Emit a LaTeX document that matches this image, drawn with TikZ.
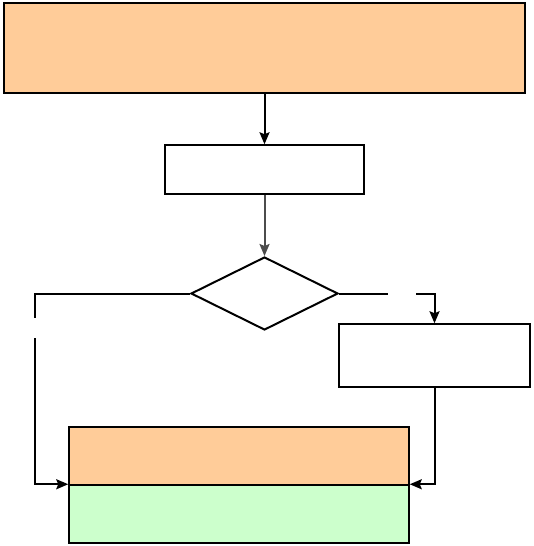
\documentclass[tikz,border=0pt]{standalone}
\usepackage{tikz}
\usetikzlibrary{shapes.geometric,arrows.meta}
\definecolor{peach}{RGB}{255,204,153}
\definecolor{mint}{RGB}{204,255,204}
\begin{document}
\begin{tikzpicture}[x=1pt,y=1pt]
\tikzset{
  boxs/.style={draw=black,line width=1.5pt,inner sep=0pt,rectangle},
  conn/.style={line width=2pt,draw=black},
  arr/.style={line width=2pt,draw=black,-{Stealth[length=12pt,width=10pt,inset=2pt]}}}
\useasboundingbox (0,-546) rectangle (533,0);
\node[boxs,fill=peach,minimum width=521pt,minimum height=90pt] (top) at (264.5,-48) {};
\node[boxs,fill=white,minimum width=199pt,minimum height=49pt] (mid) at (264.5,-169.5) {};
\node[draw=black,line width=2pt,diamond,inner sep=0pt,minimum width=147pt,minimum height=73pt,aspect=2] (dec) at (264.5,-293.5) {};
\node[boxs,fill=white,minimum width=191pt,minimum height=63pt] (rbox) at (434.5,-355.5) {};
\node[boxs,fill=peach,minimum width=340pt,minimum height=58pt] (bor) at (239,-456) {};
\node[boxs,fill=mint,minimum width=340pt,minimum height=58pt] (bgr) at (239,-514) {};
\draw[arr] (top.south) -- (mid.north);
\draw[arr,draw=black!70,fill=black!70] (mid.south) -- (dec.north);
\coordinate (l1) at (35,-318);
\coordinate (l2) at (35,-338);
\coordinate (r1) at (388,-293.5);
\coordinate (r2) at (416,-293.5);
\draw[conn] (dec.west) -| (l1);
\draw[arr] (l2) |- (bgr.north west);
\draw[conn] (dec.east) -- (r1);
\draw[arr] (r2) -| (rbox.north);
\draw[arr] (rbox.south) |- (bgr.north east);
\end{tikzpicture}
\end{document}
